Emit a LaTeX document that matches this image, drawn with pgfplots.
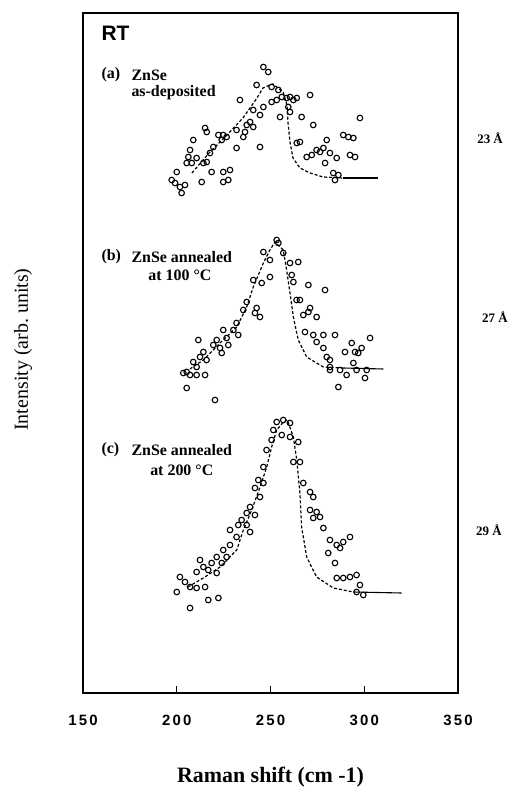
\documentclass[border=0pt]{standalone}
\usepackage{fontspec}
\setmainfont{Liberation Serif}
\setsansfont{Liberation Sans}
\usepackage{pgfplots}
\pgfplotsset{compat=1.18}

\begin{document}
\begin{tikzpicture}
\path[use as bounding box] (-83bp,-96bp) rectangle (434bp,693bp);
\begin{axis}[
  at={(0,0)}, anchor=south west,
  width=375bp, height=680bp, scale only axis,
  xmin=150, xmax=350, ymin=0, ymax=680,
  xtick={150,200,250,300,350},
  xtick pos=bottom, tick align=inside,
  major tick length=7bp,
  ytick=\empty,
  axis line style={line width=1.8bp},
  every tick/.style={line width=1.5bp, black},
  /pgf/number format/assume math mode=true,
  xticklabel style={font=\fontsize{15}{18}\selectfont\sffamily\bfseries\addfontfeatures{LetterSpace=15}, yshift=-19bp},
  xlabel={Raman shift (cm -1)},
  xlabel style={font=\fontsize{22}{26}\selectfont\bfseries, at={(axis description cs:0.5,-0.1235)}, anchor=center},
  ylabel={Intensity (arb.\ units)},
  ylabel style={font=\fontsize{20}{24}\selectfont, at={(axis description cs:-0.16,0.505)}, anchor=center},
  clip=false,
  every node/.append style={inner sep=0pt},
]
% (a) as-deposited
\addplot[only marks, mark=o, mark size=2.8bp, mark options={line width=1.1bp, black}] coordinates {
(246.2,626)(248.8,621)(242.6,608)(250.6,606)(233.7,593)(254.2,603)(256.0,596)(258.6,595)
(260.4,596)(262.2,593)(264.0,595)(253.3,593)(250.6,591)(271.1,598)(259.5,586)(260.4,581)
(255.1,576)(266.6,576)(272.8,568)(297.7,575)(240.8,583)(246.2,586)(244.4,578)(239.1,571)
(237.3,568)(240.8,566)(236.4,561)(235.5,556)(231.9,563)(222.2,558)(224.8,558)(226.6,556)
(224.0,553)(215.1,565)(216.0,561)(208.8,553)(219.5,546)(217.7,540)(231.9,545)(244.4,546)
(207.1,543)(206.2,536)(210.6,535)(208.0,530)(205.3,530)(214.2,530)(216.0,531)(200.0,521)
(197.3,513)(199.1,510)(201.7,506)(202.6,500)(204.4,508)(213.3,511)(218.6,521)(224.8,521)
(228.4,523)(227.5,513)(224.8,511)(265.7,551)(264.0,550)(280.0,553)(278.2,545)(276.4,541)
(274.6,543)(272.0,538)(269.3,536)(281.7,540)(285.3,535)(279.1,530)(288.8,558)(291.5,556)
(294.2,555)(292.4,538)(295.1,536)(283.5,520)(286.2,518)(284.4,513)
};
\addplot[black, line width=1.2bp, dash pattern=on 3bp off 2bp] coordinates {
(208.1,520)(217.7,541)(226.8,558)(235.3,575)(242.8,595)(246,605)(249.7,608)(251.3,609)
(256.7,601)(258.8,588)(259.3,571)(260.4,551)(262,535)(265.7,525)(271.1,520)(278,516)(288.7,515)
};
\addplot[black, line width=1.1bp] coordinates {(288.7,515)(307.3,515)};

% (b) annealed at 100 C
\addplot[only marks, mark=o, mark size=2.8bp, mark options={line width=1.1bp, black}] coordinates {
(253.3,453)(254.2,450)(246.2,441)(249.7,433)(256.8,440)(260.4,430)(264.8,431)
(240.8,413)(245.3,410)(249.7,416)(261.3,418)(262.2,411)(270.2,408)(279.1,403)
(263.9,393)(265.7,393)(242.6,385)(241.7,380)(244.4,376)(271.1,385)(267.5,378)
(274.6,376)(270.2,381)(235.5,383)(237.3,391)(231.9,370)(230.2,363)(232.8,358)
(224.8,363)(226.6,355)(221.3,353)(219.5,348)(223.1,345)(227.5,348)(224.0,340)
(211.5,353)(214.2,341)(212.4,336)(208.8,331)(215.9,333)(210.6,326)(205.3,321)
(203.5,320)(207.1,318)(210.6,318)(215.1,318)(205.3,305)(220.4,293)(268.4,361)
(272.8,358)(278.2,358)(284.4,358)(274.6,351)(278.2,345)(280.0,336)(281.7,333)
(281.7,326)(293.3,350)(303.1,355)(289.7,341)(295.1,341)(298.6,345)(296.8,340)
(294.2,330)(290.6,318)(295.9,323)(301.3,323)(300.4,315)(286.2,306)(281.7,323)(287.1,323)
};
\addplot[black, line width=1.2bp, dash pattern=on 3bp off 2bp] coordinates {
(207,324)(214.2,333)(223.1,350)(232.0,366)(237.3,386)(240.8,406)(246.2,430)(249.7,443)
(252.4,451)(256.8,443)(258.6,423)(260.4,400)(262.2,376)(264.8,353)(269.3,336)(274.6,330)
(278.2,326)(288.8,325)
};
\addplot[black, line width=1.1bp] coordinates {(288.8,325)(310.2,324)};

% (c) annealed at 200 C
\addplot[only marks, mark=o, mark size=2.8bp, mark options={line width=1.1bp, black}] coordinates {
(253.3,271)(256.8,273)(260.4,270)(251.5,263)(256.0,258)(260.4,256)(264.8,251)(250.6,253)
(247.9,243)(262.2,231)(265.7,231)(246.2,226)(243.5,213)(246.2,210)(241.7,205)(244.4,196)
(239.1,186)(241.7,178)(237.3,180)(234.6,173)(232.8,168)(237.3,168)(239.1,161)(228.4,163)
(267.5,210)(271.1,201)(272.8,196)(271.1,183)(274.6,181)(276.4,176)(272.8,175)(278.2,165)
(231.9,156)(228.4,148)(224.8,143)(226.6,136)(221.3,136)(224.0,130)(218.6,130)(214.2,126)
(210.6,121)(212.4,133)(216.8,123)(221.3,120)(201.7,116)(204.4,111)(207.1,106)(210.6,105)
(215.1,106)(200.0,101)(216.8,93)(222.2,95)(207.1,85)(281.7,153)(285.3,148)(288.8,151)
(292.4,156)(280.8,140)(284.4,130)(287.1,145)(285.3,115)(288.8,115)(292.4,116)(295.9,118)
(297.7,108)(295.9,101)(299.5,98)
};
\addplot[black, line width=1.2bp, dash pattern=on 3bp off 2bp] coordinates {
(206,106)(215,116)(223.1,126)(232.0,143)(235.5,163)(240.0,183)(244.4,206)(248.0,226)
(250.6,246)(253.3,263)(256.9,271)(259,273)(262.2,256)(264.0,233)(265.7,200)(266.6,166)
(269.3,136)(274.6,116)(283.5,105)(294.2,101)
};
\addplot[black, line width=1.1bp] coordinates {(294.2,101)(319.9,100)};

% labels
\node[anchor=west, font=\fontsize{21}{24}\selectfont\sffamily\bfseries] at (axis cs:158,660) {RT};
\begin{scope}[every node/.style={anchor=west, font=\fontsize{16}{19}\selectfont\bfseries}]
\node at (axis cs:158,618) {(a)};
\node at (axis cs:174,618) {ZnSe};
\node at (axis cs:174,600) {as-deposited};
\node at (axis cs:158,436) {(b)};
\node at (axis cs:174,436) {ZnSe annealed};
\node at (axis cs:183,418) {at 100 °C};
\node at (axis cs:158,243) {(c)};
\node at (axis cs:174,243) {ZnSe annealed};
\node at (axis cs:184,223) {at 200 °C};
\end{scope}
\begin{scope}[every node/.style={anchor=center, font=\fontsize{13}{15}\selectfont\bfseries}]
\node at (axis cs:367.1,555) {23 Å};
\node at (axis cs:369.7,376) {27 Å};
\node at (axis cs:366.5,163) {29 Å};
\end{scope}
\end{axis}
\end{tikzpicture}
\end{document}
